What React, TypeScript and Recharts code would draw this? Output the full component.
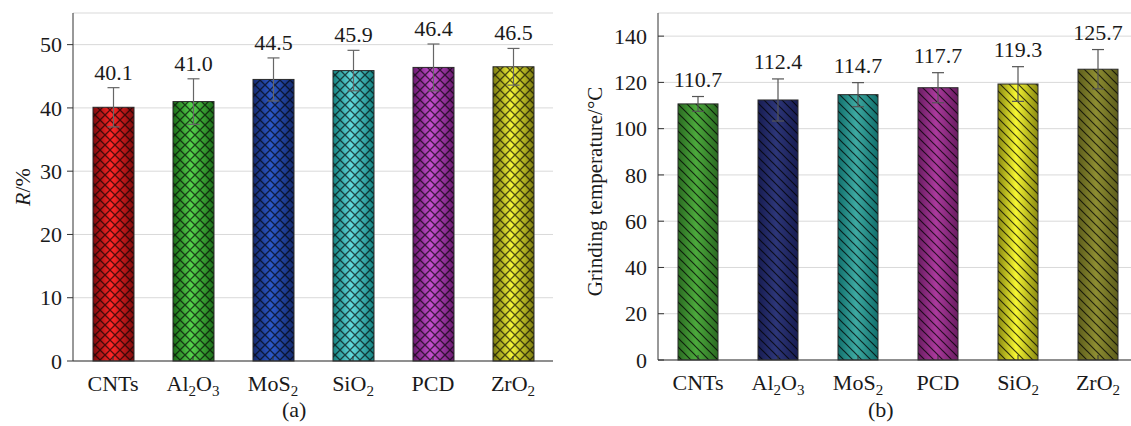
import React from 'react';
import { BarChart, Bar, XAxis, YAxis, CartesianGrid, ErrorBar, Cell } from 'recharts';

// panel (a): R/%
const catsA = ['CNTs', 'Al2O3', 'MoS2', 'SiO2', 'PCD', 'ZrO2'];
const valuesA = [40.1, 41.0, 44.5, 45.9, 46.4, 46.5];
const errorsA = [3.1, 3.6, 3.4, 3.2, 3.7, 2.9];
const ticksA = [0, 10, 20, 30, 40, 50];

// panel (b): grinding temperature
const catsB = ['CNTs', 'Al2O3', 'MoS2', 'PCD', 'SiO2', 'ZrO2'];
const valuesB = [110.7, 112.4, 114.7, 117.7, 119.3, 125.7];
const errorsB = [3.2, 9.1, 5.2, 6.5, 7.5, 8.5];
const ticksB = [0, 20, 40, 60, 80, 100, 120, 140];

const colorsA = [
  ['#7d0c0e', '#ff2626'],
  ['#1d6e1a', '#55d24c'],
  ['#142a6e', '#2c58c8'],
  ['#15817f', '#62d9dd'],
  ['#6b1a70', '#c44fce'],
  ['#7a7a10', '#f4f438'],
];
const colorsB = [
  ['#2b6b22', '#4caa3c'],
  ['#181d52', '#2d3679'],
  ['#12706d', '#3eaaa2'],
  ['#6a1d62', '#ab3a9d'],
  ['#8a8a12', '#f7f732'],
  ['#5e5e1c', '#8e8e32'],
];

const FONT = '"Liberation Serif", "Times New Roman", serif';
const FS = 22;

const dataA = catsA.map((name, i) => ({ name, value: valuesA[i], err: errorsA[i] }));
const dataB = catsB.map((name, i) => ({ name, value: valuesB[i], err: errorsB[i] }));

// split "Al2O3" into text / subscript parts
function formulaParts(s: string) {
  if (s === 'CNTs' || s === 'PCD') return [{ t: s, sub: false }];
  const out: { t: string; sub: boolean }[] = [];
  for (const m of s.match(/[A-Za-z]+|\d+/g) || []) {
    out.push({ t: m, sub: /\d/.test(m) });
  }
  return out;
}

const XTick = (props: any) => {
  const { x, y, payload } = props;
  const parts = formulaParts(payload.value);
  let shifted = false;
  return (
    <g>
      <line x1={x} x2={x} y1={y} y2={y - 5} stroke="#333" />
      <text x={x} y={y + 30} textAnchor="middle" fontSize={FS} fontFamily={FONT} fill="#1a1a1a">
        {parts.map((p, i) => {
          let dy = 0;
          if (p.sub && !shifted) { dy = 5; shifted = true; }
          else if (!p.sub && shifted) { dy = -5; shifted = false; }
          return (
            <tspan key={i} dy={dy} fontSize={p.sub ? 15 : FS}>{p.t}</tspan>
          );
        })}
      </text>
    </g>
  );
};

const YTickOut = (props: any) => {
  const { x, y, payload } = props;
  return (
    <g>
      <line x1={x - 6} x2={x} y1={y} y2={y} stroke="#333" />
      <text x={x - 11} y={y} dy="0.35em" textAnchor="end" fontSize={FS} fontFamily={FONT} fill="#1a1a1a">
        {payload.value}
      </text>
    </g>
  );
};

const YTickIn = (props: any) => {
  const { x, y, payload } = props;
  return (
    <g>
      <line x1={x} x2={x + 6} y1={y} y2={y} stroke="#333" />
      <text x={x - 11} y={y} dy="0.35em" textAnchor="end" fontSize={FS} fontFamily={FONT} fill="#1a1a1a">
        {payload.value}
      </text>
    </g>
  );
};

function makeShape(prefix: string, hatch: string, gap: number) {
  return (props: any) => {
    const { x, y, width, height, payload, index } = props;
    const i = index ?? 0;
    const errTop = y - (payload.err * height) / payload.value;
    return (
      <g>
        <rect x={x} y={y} width={width} height={height} fill={`url(#${prefix}${i})`} />
        <rect x={x} y={y} width={width} height={height} fill={`url(#${hatch})`} stroke="#2a2a2a" strokeWidth={1} />
        <text x={x + width / 2} y={errTop - gap} textAnchor="middle" fontSize={FS} fontFamily={FONT} fill="#1a1a1a">
          {payload.value.toFixed(1)}
        </text>
      </g>
    );
  };
}

const shapeA = makeShape('ga', 'cross', 8);
const shapeB = makeShape('gb', 'diag', 10);

const Defs = () => (
  <svg width={0} height={0} style={{ position: 'absolute' }}>
    <defs>
      {colorsA.map(([d, b], i) => (
        <linearGradient key={'a' + i} id={`ga${i}`} x1="0" y1="0" x2="1" y2="0">
          <stop offset="0%" stopColor={d} />
          <stop offset="45%" stopColor={b} />
          <stop offset="100%" stopColor={d} />
        </linearGradient>
      ))}
      {colorsB.map(([d, b], i) => (
        <linearGradient key={'b' + i} id={`gb${i}`} x1="0" y1="0" x2="1" y2="0">
          <stop offset="0%" stopColor={d} />
          <stop offset="45%" stopColor={b} />
          <stop offset="100%" stopColor={d} />
        </linearGradient>
      ))}
      <pattern id="cross" patternUnits="userSpaceOnUse" width={10} height={10}>
        <path d="M0,0 L10,10 M10,0 L0,10" stroke="#000" strokeOpacity={0.65} strokeWidth={1.3} />
      </pattern>
      <pattern id="diag" patternUnits="userSpaceOnUse" width={9} height={9}>
        <path d="M0,0 L9,9 M-2,7 L2,11 M7,-2 L11,2" stroke="#000" strokeOpacity={0.75} strokeWidth={1.2} />
      </pattern>
    </defs>
  </svg>
);

const YLabelA = (props: any) => {
  const { viewBox } = props;
  const cx = 22;
  const cy = viewBox.y + viewBox.height / 2;
  return (
    <text x={cx} y={cy} transform={`rotate(-90 ${cx} ${cy})`} textAnchor="middle" dy="0.35em" fontSize={FS} fontFamily={FONT} fill="#1a1a1a">
      <tspan fontStyle="italic">R</tspan>/%
    </text>
  );
};

const YLabelB = (props: any) => {
  const { viewBox } = props;
  const cx = 30;
  const cy = viewBox.y + viewBox.height / 2 + 5;
  return (
    <text x={cx} y={cy} transform={`rotate(-90 ${cx} ${cy})`} textAnchor="middle" dy="0.35em" fontSize={FS - 1} fontFamily={FONT} fill="#1a1a1a">
      Grinding temperature/°C
    </text>
  );
};

const caption: React.CSSProperties = {
  position: 'absolute',
  top: 397,
  fontFamily: FONT,
  fontSize: FS,
  color: '#1a1a1a',
};

export default function App() {
  return (
    <div style={{ position: 'absolute', left: 0, top: 0, width: 1131, height: 426, overflow: 'hidden', background: '#fff' }}>
      <Defs />
      <div style={{ position: 'absolute', left: 0, top: 0 }}>
        <BarChart width={560} height={426} data={dataA} margin={{ top: 13, right: 7, bottom: 0, left: 10 }}>
          <CartesianGrid vertical={false} stroke="#d9d9d9" />
          <XAxis dataKey="name" height={65} tick={<XTick />} tickLine={false} tickSize={0} tickMargin={0} axisLine={{ stroke: '#333' }} interval={0} />
          <XAxis xAxisId="top" orientation="top" dataKey="name" height={0} tick={false} tickLine={false} axisLine={{ stroke: '#444' }} />
          <YAxis width={63} domain={[0, 55]} ticks={ticksA} tick={<YTickOut />} tickLine={false} tickSize={0} tickMargin={0} axisLine={{ stroke: '#333' }} label={<YLabelA />} />
          <YAxis yAxisId="right" orientation="right" width={0} domain={[0, 55]} tick={false} tickLine={false} axisLine={{ stroke: '#444' }} />
          <Bar dataKey="value" barSize={41} shape={shapeA} isAnimationActive={false}>
            {dataA.map((d, i) => <Cell key={d.name} fill={`url(#ga${i})`} />)}
            <ErrorBar dataKey="err" width={6} stroke="#666" strokeWidth={1.2} direction="y" />
          </Bar>
        </BarChart>
      </div>
      <div style={{ position: 'absolute', left: 565, top: 0 }}>
        <BarChart width={580} height={426} data={dataB} margin={{ top: 13, right: 7, bottom: 0, left: 10 }}>
          <CartesianGrid vertical={false} stroke="#d9d9d9" />
          <XAxis dataKey="name" height={66} tick={<XTick />} tickLine={false} tickSize={0} tickMargin={0} axisLine={{ stroke: '#333' }} interval={0} />
          <XAxis xAxisId="top" orientation="top" dataKey="name" height={0} tick={false} tickLine={false} axisLine={{ stroke: '#444' }} />
          <YAxis width={83} domain={[0, 150]} ticks={ticksB} tick={<YTickIn />} tickLine={false} tickSize={0} tickMargin={0} axisLine={{ stroke: '#333' }} label={<YLabelB />} />
          <YAxis yAxisId="right" orientation="right" width={0} domain={[0, 150]} tick={false} tickLine={false} axisLine={{ stroke: '#444' }} />
          <Bar dataKey="value" barSize={40} shape={shapeB} isAnimationActive={false}>
            {dataB.map((d, i) => <Cell key={d.name} fill={`url(#gb${i})`} />)}
            <ErrorBar dataKey="err" width={6} stroke="#555" strokeWidth={1.2} direction="y" />
          </Bar>
        </BarChart>
      </div>
      <div style={{ ...caption, left: 282 }}>(a)</div>
      <div style={{ ...caption, left: 868 }}>(b)</div>
    </div>
  );
}
